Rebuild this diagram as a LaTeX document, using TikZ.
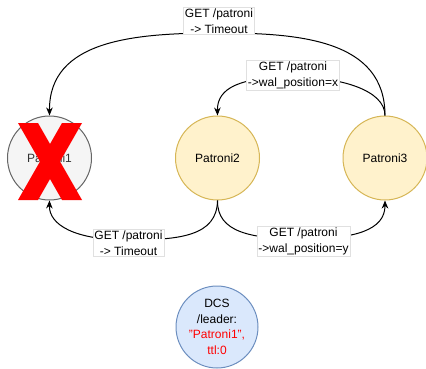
\documentclass[tikz,border=0pt]{standalone}
\usepackage{fontspec}
\setmainfont{Liberation Sans}
\usetikzlibrary{arrows.meta}
\definecolor{deadfill}{HTML}{F5F5F5}
\definecolor{deadline}{HTML}{666666}
\definecolor{deadtext}{HTML}{333333}
\definecolor{livefill}{HTML}{FFF2CC}
\definecolor{liveline}{HTML}{D6B656}
\definecolor{dcsfill}{HTML}{DAE8FC}
\definecolor{dcsline}{HTML}{6C8EBF}
\definecolor{xred}{HTML}{FF0000}
\begin{document}
\begin{tikzpicture}[x=1pt,y=-1pt,
  every node/.style={font=\fontsize{12}{15.5}\selectfont},
  dead/.style={circle,draw=deadline,fill=deadfill,text=deadtext,minimum size=84pt,inner sep=0pt,line width=1pt},
  live/.style={circle,draw=liveline,fill=livefill,minimum size=84pt,inner sep=0pt,line width=1pt},
  dcsnode/.style={circle,draw=dcsline,fill=dcsfill,minimum size=82pt,inner sep=0pt,line width=1pt,align=center},
  lbl/.style={fill=white,draw=black!12,line width=0.5pt,inner sep=1.5pt,align=center},
  edge/.style={line width=1pt,-{Stealth[length=8pt,width=6.5pt,inset=2.5pt]}}]
\useasboundingbox (0,0) rectangle (426,369);

\node[dead] (p1) at (49.5,158) {Patroni1};
\node[live] (p2) at (217.5,158) {Patroni2};
\node[live] (p3) at (385,158) {Patroni3};
\node[dcsnode] (dcs) at (217,327) {DCS\\/leader:\\\textcolor{xred}{"Patroni1",}\\\textcolor{xred}{ttl:0}};

% red cross over Patroni1
\fill[xred] (18,123) -- (38,123) -- (50,144) -- (62,123) -- (82,123) -- (60,161.5)
  -- (82,200) -- (62,200) -- (50,179) -- (38,200) -- (18,200) -- (40,161.5) -- cycle;

\coordinate (c1) at (219,33);
\coordinate (c2) at (293,77);
\coordinate (c3) at (128,240);
\coordinate (c4) at (303,239);

\draw[edge] (p3.north) .. controls (385,40) and (300,33) .. (c1)
  .. controls (134,33) and (49,40) .. (p1.north);
\draw[edge] (p3.north) .. controls (385,90) and (340,77) .. (c2)
  .. controls (240,77) and (217,88) .. (p2.north);
\draw[edge] (p2.south) .. controls (217,236) and (180,240) .. (c3)
  .. controls (75,240) and (49,225) .. (p1.south);
\draw[edge] (p2.south) .. controls (217,232) and (250,239) .. (c4)
  .. controls (355,239) and (385,230) .. (p3.south);

\node[lbl] (l1) at (219,21) {GET /patroni\\-> Timeout};
\node[lbl] (l2) at (293,75.5) {GET /patroni\\->wal\_position=x};
\node[lbl] (l3) at (128.5,243) {GET /patroni\\-> Timeout};
\node[lbl] (l4) at (303.5,241.5) {GET /patroni\\->wal\_position=y};
\end{tikzpicture}
\end{document}
